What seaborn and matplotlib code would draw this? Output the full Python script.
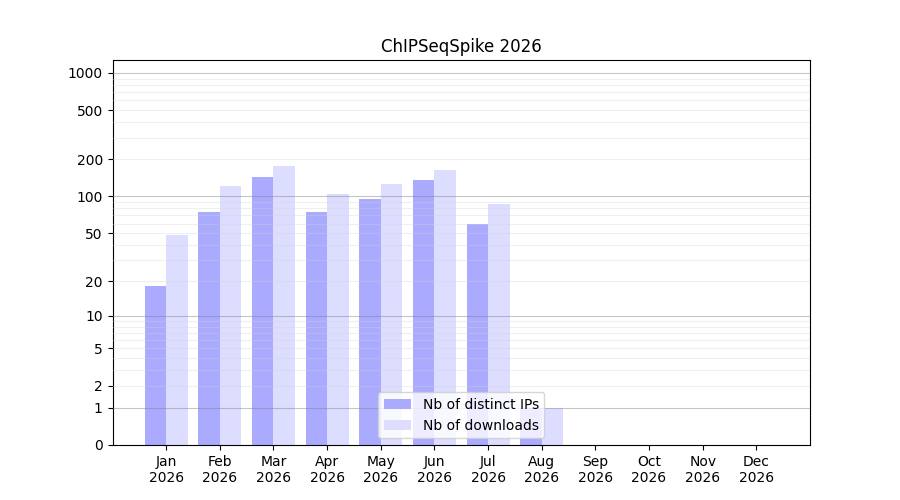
import numpy as np
import pandas as pd
import matplotlib
matplotlib.use('Agg')
import matplotlib.pyplot as plt
import seaborn as sns

# monthly stats
months = ['Jan', 'Feb', 'Mar', 'Apr', 'May', 'Jun',
          'Jul', 'Aug', 'Sep', 'Oct', 'Nov', 'Dec']
year = 2026
distinct_ips = [18, 75, 144, 75, 95, 136, 60, 1, 0, 0, 0, 0]
downloads = [48, 121, 177, 105, 126, 164, 87, 1, 0, 0, 0, 0]

ytick_vals = [0, 1, 2, 5, 10, 20, 50, 100, 200, 500, 1000]
major_grid = [1, 10, 100, 1000]
minor_grid = [v * m for m in (1, 10, 100) for v in range(2, 10)]

df = pd.DataFrame({
    'month': months * 2,
    'value': distinct_ips + downloads,
    'series': ['Nb of distinct IPs'] * 12 + ['Nb of downloads'] * 12,
})

fig, ax = plt.subplots(figsize=(9, 5), dpi=100)

# log(1+x) axis so that zero still fits
ax.set_yscale('function', functions=(lambda x: np.log10(np.maximum(x, 0) + 1),
                                     lambda y: 10 ** y - 1))

sns.barplot(data=df, x='month', y='value', hue='series', order=months,
            palette=['#aaaaff', '#ddddff'], width=0.8, saturation=1,
            linewidth=0, ax=ax, zorder=2)

for v in major_grid:
    ax.axhline(v, color='gray', alpha=0.45, lw=0.8, zorder=3)
for v in minor_grid:
    ax.axhline(v, color='lightgray', alpha=0.35, lw=0.8, zorder=3)

ax.set_ylim(0, 1270)
ax.set_xlim(-1, 12)
ax.set_yticks(ytick_vals)
ax.set_yticklabels([str(v) for v in ytick_vals])
ax.set_xticks(range(12))
ax.set_xticklabels([f'{m}\n{year}' for m in months])
ax.set_xlabel('')
ax.set_ylabel('')
ax.set_title(f'ChIPSeqSpike {year}')
ax.legend(loc='lower center', title=None)

plt.savefig('out.png', dpi=100)
plt.close()
